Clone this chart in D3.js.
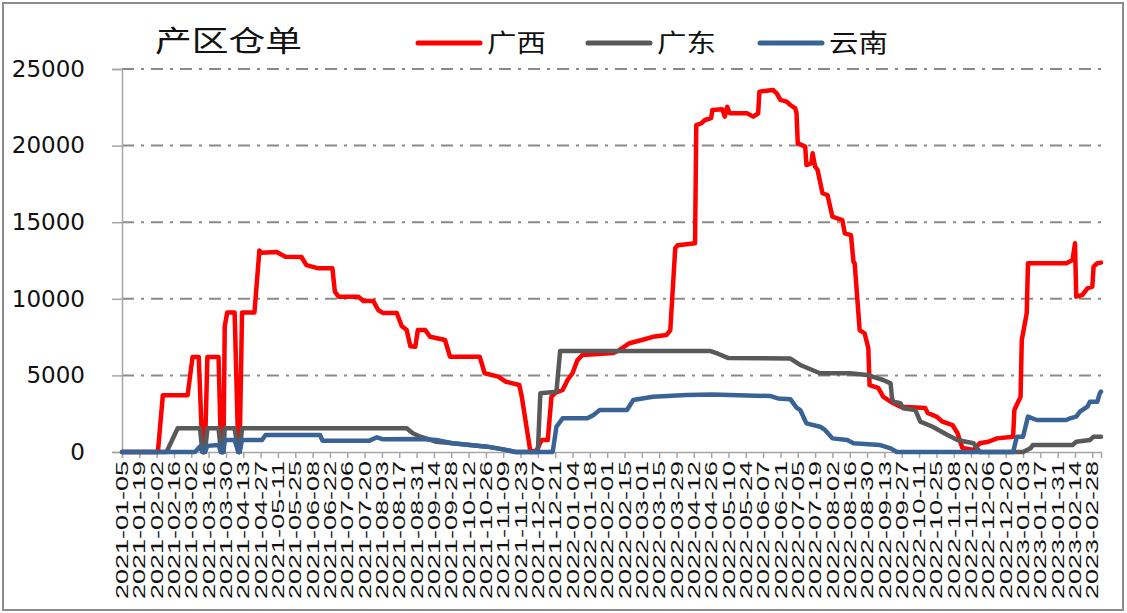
<!DOCTYPE html>
<html><head><meta charset="utf-8">
<script src="https://cdn.jsdelivr.net/npm/d3@7"></script>
<style>
html,body{margin:0;padding:0;background:#fff;}
svg{display:block;}
</style></head>
<body>
<svg id="chart" width="1127" height="613"></svg>
<script>
// ---------- DATA ----------
const titleText = "产区仓单";
const seriesNames = ["广西", "广东", "云南"];
const seriesColors = ["#ff0000", "#595959", "#3a6395"];
const axisStart = "2021-01-05";
const axisEnd = "2023-03-07";
const yTicks = [0, 5000, 10000, 15000, 20000, 25000];
const xTickLabels = [
  "2021-01-05","2021-01-19","2021-02-02","2021-02-16","2021-03-02","2021-03-16","2021-03-30",
  "2021-04-13","2021-04-27","2021-05-11","2021-05-25","2021-06-08","2021-06-22","2021-07-06",
  "2021-07-20","2021-08-03","2021-08-17","2021-08-31","2021-09-14","2021-09-28","2021-10-12",
  "2021-10-26","2021-11-09","2021-11-23","2021-12-07","2021-12-21","2022-01-04","2022-01-18",
  "2022-02-01","2022-02-15","2022-03-01","2022-03-15","2022-03-29","2022-04-12","2022-04-26",
  "2022-05-10","2022-05-24","2022-06-07","2022-06-21","2022-07-05","2022-07-19","2022-08-02",
  "2022-08-16","2022-08-30","2022-09-13","2022-09-27","2022-10-11","2022-10-25","2022-11-08",
  "2022-11-22","2022-12-06","2022-12-20","2023-01-03","2023-01-17","2023-01-31","2023-02-14",
  "2023-02-28"
];

// 广西
const gxDates = ["2021-01-05","2021-02-03","2021-02-07","2021-02-27","2021-03-03","2021-03-08","2021-03-11","2021-03-13","2021-03-15","2021-03-24","2021-03-26","2021-03-28","2021-03-29","2021-03-31","2021-04-06","2021-04-09","2021-04-10","2021-04-12","2021-04-22","2021-04-26","2021-04-28","2021-05-10","2021-05-17","2021-05-30","2021-06-03","2021-06-12","2021-06-24","2021-06-26","2021-06-29","2021-07-15","2021-07-19","2021-07-27","2021-07-31","2021-08-04","2021-08-15","2021-08-19","2021-08-23","2021-08-26","2021-08-30","2021-09-01","2021-09-07","2021-09-11","2021-09-23","2021-09-27","2021-10-21","2021-10-25","2021-11-05","2021-11-11","2021-11-22","2021-11-24","2021-12-01","2021-12-06","2021-12-10","2021-12-15","2021-12-18","2021-12-21","2021-12-27","2021-12-31","2022-01-04","2022-01-08","2022-01-12","2022-02-06","2022-02-11","2022-02-19","2022-03-01","2022-03-10","2022-03-21","2022-03-24","2022-03-28","2022-03-30","2022-04-13","2022-04-14","2022-04-18","2022-04-21","2022-04-26","2022-04-27","2022-05-05","2022-05-07","2022-05-09","2022-05-11","2022-05-25","2022-05-30","2022-06-03","2022-06-04","2022-06-15","2022-06-18","2022-06-21","2022-06-26","2022-06-29","2022-07-03","2022-07-04","2022-07-05","2022-07-11","2022-07-12","2022-07-16","2022-07-17","2022-07-19","2022-07-21","2022-07-25","2022-07-29","2022-08-02","2022-08-10","2022-08-12","2022-08-17","2022-08-19","2022-08-20","2022-08-24","2022-08-28","2022-08-31","2022-09-01","2022-09-08","2022-09-12","2022-09-18","2022-09-26","2022-10-16","2022-10-18","2022-10-25","2022-10-30","2022-11-07","2022-11-11","2022-11-15","2022-11-24","2022-11-29","2022-12-06","2022-12-13","2022-12-26","2022-12-27","2023-01-01","2023-01-02","2023-01-06","2023-01-07","2023-02-07","2023-02-12","2023-02-14","2023-02-15","2023-02-20","2023-02-24","2023-02-28","2023-03-01","2023-03-04","2023-03-07"];
const gxValues = [0,0,3700,3700,6200,6200,0,0,6200,6200,0,0,8200,9100,9100,0,0,9100,9100,13150,13000,13050,12750,12730,12200,12000,11990,10460,10140,10140,9860,9860,9270,9070,9070,8220,7960,6900,6870,7960,7960,7520,7310,6220,6220,5140,4920,4590,4370,3610,0,100,780,780,3610,3850,4050,4700,5140,6000,6330,6460,6660,7100,7310,7520,7640,7960,13300,13500,13620,21340,21450,21670,21800,22320,22370,21890,22540,22110,22110,21890,22110,23520,23630,23410,22980,22870,22650,22430,22110,20150,19930,18730,18860,19500,18620,18410,16890,16770,15360,15140,14270,14160,12420,12300,7960,7750,6790,4370,4180,3610,3280,2960,2870,2550,2310,1980,1760,1240,260,130,570,670,890,1000,2740,3610,7310,9070,12320,12320,12530,13620,10140,10250,10680,10790,12100,12320,12360];

// 广东
const gdDates = ["2021-01-05","2021-02-10","2021-02-19","2021-03-09","2021-03-11","2021-03-13","2021-03-15","2021-03-24","2021-03-26","2021-03-28","2021-03-29","2021-04-06","2021-04-09","2021-04-10","2021-04-12","2021-08-23","2021-08-28","2021-09-03","2021-09-16","2021-09-29","2021-10-13","2021-10-27","2021-11-09","2021-11-19","2021-12-07","2021-12-09","2021-12-22","2021-12-25","2022-04-25","2022-05-02","2022-05-10","2022-06-29","2022-07-07","2022-07-23","2022-08-16","2022-08-30","2022-09-12","2022-09-18","2022-09-19","2022-09-20","2022-09-26","2022-09-28","2022-10-08","2022-10-12","2022-10-22","2022-11-03","2022-11-11","2022-11-24","2022-11-28","2022-11-29","2023-01-03","2023-01-09","2023-01-11","2023-02-12","2023-02-15","2023-02-26","2023-03-01","2023-03-07"];
const gdValues = [0,0,1550,1550,0,0,1550,1550,0,0,1550,1550,0,0,1550,1550,1220,1000,670,570,460,350,170,0,0,3830,3940,6600,6600,6400,6130,6100,5680,5140,5140,5030,4700,4480,3610,3280,3180,2850,2740,1980,1650,1110,780,570,130,0,0,240,460,460,670,780,1000,1000];

// 云南
const ynDates = ["2021-01-05","2021-03-05","2021-03-09","2021-03-11","2021-03-13","2021-03-15","2021-03-24","2021-03-26","2021-03-28","2021-03-29","2021-04-06","2021-04-09","2021-04-10","2021-04-12","2021-04-28","2021-05-01","2021-06-14","2021-06-16","2021-07-24","2021-07-30","2021-08-04","2021-09-03","2021-09-16","2021-09-29","2021-10-13","2021-10-27","2021-11-09","2021-11-19","2021-12-19","2021-12-22","2021-12-27","2022-01-16","2022-01-21","2022-01-26","2022-02-17","2022-02-22","2022-03-10","2022-04-06","2022-04-27","2022-06-13","2022-06-19","2022-06-29","2022-07-04","2022-07-07","2022-07-12","2022-07-23","2022-07-27","2022-08-02","2022-08-14","2022-08-19","2022-09-09","2022-09-18","2022-09-23","2022-12-26","2022-12-29","2023-01-03","2023-01-07","2023-01-14","2023-02-07","2023-02-10","2023-02-15","2023-02-18","2023-02-24","2023-02-26","2023-03-04","2023-03-06","2023-03-07"];
const ynValues = [0,0,350,0,0,400,460,0,0,780,780,0,0,780,780,1110,1110,740,740,960,830,850,780,570,460,350,170,0,0,1650,2200,2200,2420,2740,2740,3390,3610,3720,3750,3650,3500,3450,2900,2740,1870,1650,1440,890,780,570,460,240,0,0,1000,1000,2310,2090,2090,2200,2310,2630,2960,3280,3280,3830,3940];

// ---------- CHART ----------
const svg = d3.select("#chart");
const parse = d3.utcParse("%Y-%m-%d");
const x = d3.scaleUtc().domain([parse(axisStart), parse(axisEnd)]).range([122, 1101]);
const y = d3.scaleLinear().domain([0, 25000]).range([452, 69]);

// outer frame
svg.append("rect").attr("x", 3).attr("y", 3).attr("width", 1120).attr("height", 607)
  .attr("fill", "none").attr("stroke", "#8c8c8c").attr("stroke-width", 2);

// gridlines
svg.append("g").selectAll("line").data(yTicks.filter(d => d > 0)).join("line")
  .attr("x1", 122).attr("x2", 1101)
  .attr("y1", d => y(d)).attr("y2", d => y(d))
  .attr("stroke", "#8a8a8a").attr("stroke-width", 2)
  .attr("stroke-dasharray", "12,7,3,7");

// y axis
const yAxis = svg.append("g").attr("transform", "translate(122,0)")
  .call(d3.axisLeft(y).tickValues(yTicks).tickSize(10).tickPadding(27).tickFormat(d3.format("d")));
yAxis.select(".domain").attr("stroke", "#a6a6a6").attr("stroke-width", 1.5);
yAxis.selectAll(".tick line").attr("stroke", "#a6a6a6").attr("stroke-width", 1.5);
yAxis.selectAll("text").attr("font-family", "DejaVu Sans").attr("font-size", 23).attr("fill", "#111");

// x axis
const xAxis = svg.append("g").attr("transform", "translate(0,452)")
  .call(d3.axisBottom(x).tickValues(xTickLabels.map(parse)).tickSize(6)
    .tickFormat((d, i) => xTickLabels[i]));
xAxis.select(".domain").attr("stroke", "#a6a6a6").attr("stroke-width", 1.5);
xAxis.selectAll(".tick line").attr("stroke", "#a6a6a6").attr("stroke-width", 1.5);
xAxis.selectAll("text")
  .attr("font-family", "Liberation Sans").attr("font-size", 16).attr("fill", "#111")
  .attr("transform", "rotate(-90)")
  .attr("x", -9).attr("y", 0).attr("dy", "0.35em")
  .attr("text-anchor", "end")
  .attr("textLength", 138).attr("lengthAdjust", "spacingAndGlyphs");

// lines
const series = [
  {dates: gxDates, values: gxValues},
  {dates: gdDates, values: gdValues},
  {dates: ynDates, values: ynValues}
];
const line = d3.line().x(d => x(d[0])).y(d => y(d[1]));
series.forEach((s, i) => {
  const pts = s.dates.map((d, j) => [parse(d), s.values[j]]);
  svg.append("path").datum(pts).attr("d", line)
    .attr("fill", "none").attr("stroke", seriesColors[i])
    .attr("stroke-width", 4.5).attr("stroke-linejoin", "round").attr("stroke-linecap", "round");
});

// title
svg.append("text").attr("x", 155).attr("y", 42).attr("dy", "0.35em")
  .attr("font-family", "Noto Sans CJK SC").attr("font-size", 29).attr("fill", "#111")
  .attr("textLength", 147).attr("lengthAdjust", "spacingAndGlyphs")
  .text(titleText);

// legend
const legX = [418, 588, 760];
const legG = svg.append("g");
seriesNames.forEach((n, i) => {
  legG.append("line").attr("x1", legX[i]).attr("x2", legX[i] + 62)
    .attr("y1", 43).attr("y2", 43)
    .attr("stroke", seriesColors[i]).attr("stroke-width", 5).attr("stroke-linecap", "round");
  legG.append("text").attr("x", legX[i] + 69).attr("y", 43).attr("dy", "0.35em")
    .attr("font-family", "Noto Sans CJK SC").attr("font-size", 25).attr("fill", "#111")
    .attr("textLength", 59).attr("lengthAdjust", "spacingAndGlyphs")
    .text(n);
});
</script>
</body></html>
